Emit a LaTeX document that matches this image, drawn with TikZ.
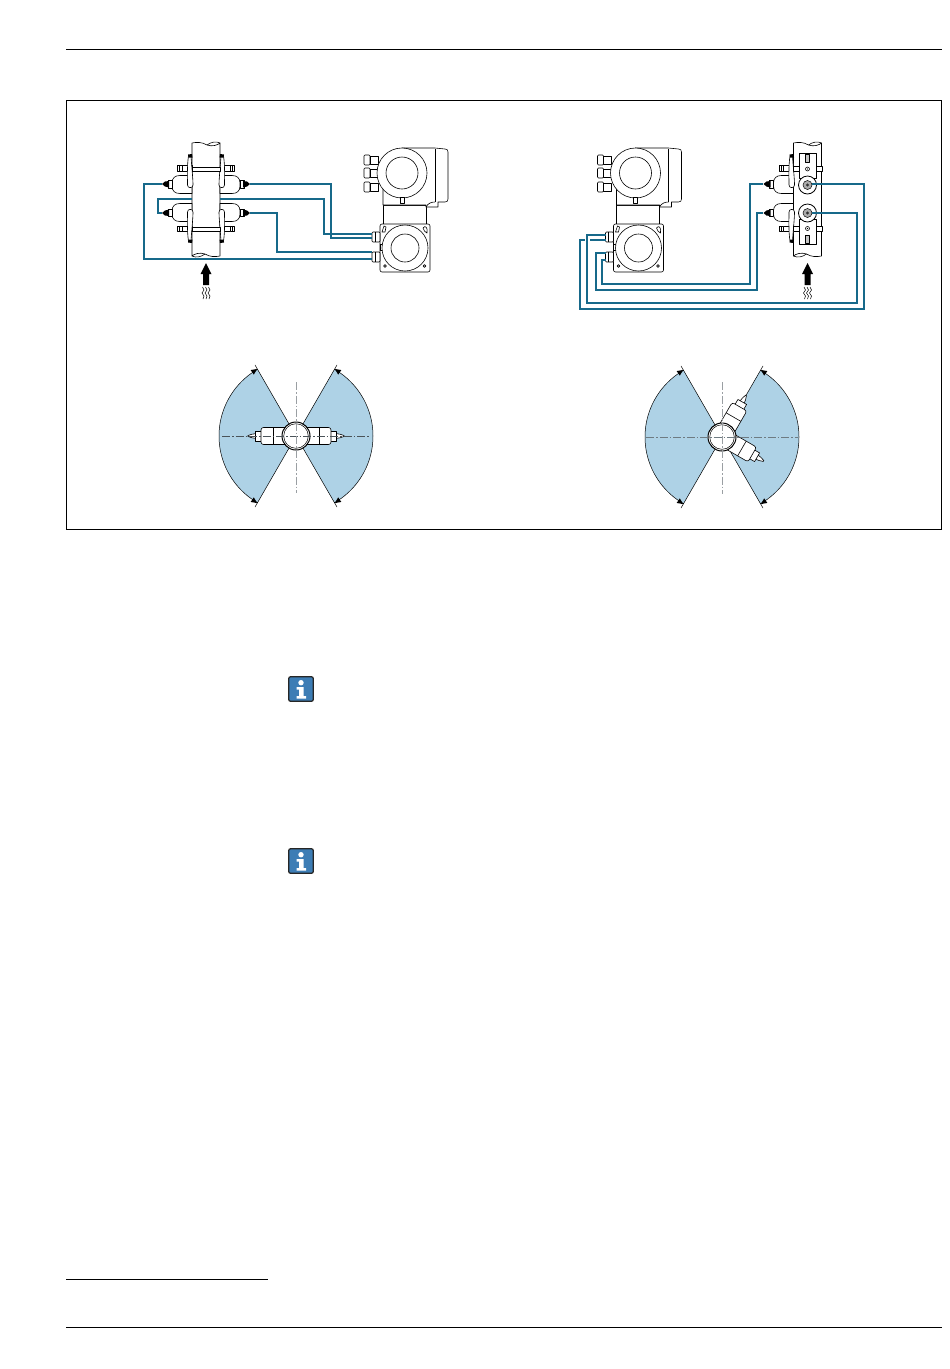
\documentclass[tikz,border=0pt]{standalone}
\definecolor{cable}{HTML}{17698A}
\definecolor{sectorblue}{HTML}{AED2E6}
\definecolor{icon}{HTML}{3D7DB5}
\definecolor{cl}{HTML}{4A5358}
\definecolor{clpale}{HTML}{9A9FA3}
\definecolor{clmid}{HTML}{6E7B82}
\tikzset{
  part/.style={draw=black,fill=white,line width=0.6pt,line join=round},
  thinline/.style={draw=black,line width=0.6pt,line join=round},
  cablerun/.style={draw=cable,line width=1.1pt,line join=miter},
  centreline/.style={line width=0.7pt,dash pattern=on 8pt off 2pt on 1.5pt off 2pt},
  rulerline/.style={draw=black,line width=0.6pt}
}
\newcommand\clampunit{%
  \path[part] (182,165.5) rectangle (192,171);
  \path[part] (177.5,165.5) rectangle (182,171);
  \draw[black,line width=0.9pt] (179.7,165.8) -- (179.7,170.7);
  \path[part] (172,184.5) -- (172,183) .. controls (172,178) and (175,175.5) .. (180,175.5) -- (192,175.5) -- (192,193.5) -- (180,193.5) .. controls (175,193.5) and (172,191) .. (172,186) -- cycle;
  \path[part] (168,180.5) rectangle (172,188);
  \fill[black] (162,184) -- (165,181.5) -- (169,181) -- (169,187.5) -- (165,186.5) -- cycle;
  \path[part] (188.5,156) .. controls (187,165) and (187.5,178) .. (187.5,185) .. controls (187.5,188.5) and (193,188.5) .. (193,185) .. controls (193,178) and (191.5,165) .. (191,156);
  \fill[black] (188,154.5) -- (192,154) -- (192.5,157.5) -- (188.5,157.5) -- cycle;
}
\newcommand\clampset{%
  \clampunit
  \begin{scope}[shift={(0,397)},yscale=-1]\clampunit\end{scope}
}
\newcommand\pipebody[1]{%
  \begin{scope}[shift={(#1,0)}]
  \path[part] (0,143) .. controls (5,142) and (10,142) .. (15,145) .. controls (20,147) and (26,145) .. (28,143) -- (28,256) .. controls (23,257) and (18,257) .. (13,254) .. controls (8,252) and (2,254) .. (0,256) -- cycle;
  \draw[thinline] (15,145) .. controls (19,142) and (24,141) .. (28,143);
  \draw[thinline] (13,254) .. controls (9,257) and (4,258) .. (0,256);
  \end{scope}
}
\newcommand\squiggle[1]{%
  \draw[black,line width=0.5pt] (#1,287) -- (#1+1.5,290) -- (#1-0.5,293) -- (#1+1.5,296) -- (#1+0.5,299);
}
\newcommand\flowarrow[1]{%
  \fill[black] (#1,263) -- (#1+5.5,274) -- (#1+3,274) -- (#1+3,285) -- (#1-3,285) -- (#1-3,274) -- (#1-5.5,274) -- cycle;
  \squiggle{#1-3.5}\squiggle{#1-0.5}\squiggle{#1+2.5}
}
\newcommand\gland[2]{%
  \path[part,rounded corners=1pt] (#1,#2+0.5) rectangle (#1+6,#2+10.5);
  \path[part] (#1+6,#2+1.5) rectangle (#1+14,#2+9.5);
}
\newcommand\transmitter{%
  \path[part] (383,205) rectangle (426,224);
  \path[part] (402,148) -- (435,148) -- (445,149) .. controls (447,149) and (448,150) .. (448,152) -- (448,199) .. controls (448,201) and (447,202) .. (445,202) -- (438,202) -- (438,207) -- (426,207) -- (426,205) -- (383,205) -- (383,188) -- cycle;
  \draw[thinline] (435,149) -- (435,202);
  \draw[thinline] (426,207) .. controls (428,203) and (432,202) .. (435,202);
  \gland{364}{154.5}\gland{364}{167.5}\gland{364}{181.5}
  \path[part] (402,173) circle[radius=25];
  \path[part] (402,173) circle[radius=16];
  \path[part] (400,197.5) rectangle (404,203);
  \path[part,rounded corners=2pt] (380,224) rectangle (430,272);
  \path[part] (380,244) rectangle (383,250);
  \path[part] (405,248) circle[radius=23];
  \path[part] (405,248) circle[radius=14];
  \draw[thinline] (385,266) circle[radius=1.4];
  \draw[thinline] (424.5,266) circle[radius=1.4];
  \draw[thinline] (382,232) -- (384,226) -- (386,227) -- (385,232) -- cycle;
  \draw[thinline] (423,228) .. controls (425,225) and (428,227) .. (427,233) .. controls (425,232) and (424,231) .. (423,228);
  \path[part,rounded corners=1pt] (372,232) rectangle (380,242);
  \path[part,rounded corners=1pt] (372,252) rectangle (380,262);
  \draw[thinline] (375,232) -- (375,242) (375,252) -- (375,262);
}
\newcommand\sectorfig[2]{%
  \begin{scope}[shift={(#1,#2)}]
  \foreach \a in {0,180}{
    \begin{scope}[rotate=\a]
    \path[fill=sectorblue,draw=black,line width=0.5pt] (0,0) -- plot[domain=-60:60,samples=61] ({77*cos(\x)},{77*sin(\x)}) -- cycle;
    \draw[black,line width=0.5pt] (60:77) -- (60:82) (-60:77) -- (-60:82);
    \fill[black] (60:77.5) -- (55.5:80) -- (55.5:74.5) -- cycle;
    \fill[black] (-60:77.5) -- (-55.5:80) -- (-55.5:74.5) -- cycle;
    \end{scope}
  }
  \end{scope}
}
\newcommand\probe{%
  \path[part] (40,-2.4) -- (44,-1.8) -- (48,-0.5) -- (48,0.5) -- (44,1.8) -- (40,2.4) -- cycle;
  \path[part] (34,-5) rectangle (40.5,5);
  \path[part,rounded corners=2.5pt] (8,-8.5) rectangle (35,8.5);
  \draw[thinline] (23,-8.5) -- (23,8.5);
}
\newcommand\ringcircle[2]{%
  \path[draw=black,fill=white,line width=1pt] (#1,#2) circle[radius=14];
  \draw[black,line width=0.5pt] (#1,#2) circle[radius=12.3];
}
\newcommand\infoicon[2]{%
  \begin{scope}[shift={(#1,#2)}]
  \path[draw=black!85,fill=icon,line width=1.3pt,rounded corners=2pt] (0.7,0.7) rectangle (25.3,25.3);
  \fill[white] (13,6.7) circle[radius=2.7];
  \fill[white] (8.5,11) -- (15.7,11) -- (15.7,20) -- (18,20) -- (18,22.5) -- (8.5,22.5) -- (8.5,20) -- (11,20) -- (11,13.5) -- (8.5,13.5) -- cycle;
  \end{scope}
}
\begin{document}
\begin{tikzpicture}[x=1pt,y=-1pt]
\useasboundingbox (0,0) rectangle (950,1369);
\fill[white] (0,0) rectangle (950,1369);
\coordinate (rt1) at (66,49);\coordinate (rt2) at (942,49);
\draw[rulerline] (rt1) -- (rt2);
\coordinate (rb1) at (66,1327);\coordinate (rb2) at (942,1327);
\draw[rulerline] (rb1) -- (rb2);
\coordinate (fn1) at (66,1279);\coordinate (fn2) at (268,1279);
\draw[rulerline] (fn1) -- (fn2);
\draw[rulerline] (66.5,100.5) rectangle (941.5,529.5);
\infoicon{288}{676}
\infoicon{288}{848}

% upper left
\transmitter
\pipebody{192}
\clampset
\begin{scope}[shift={(412,0)},xscale=-1]\clampset\end{scope}
\path[part] (192,167) rectangle (220,171);
\path[part] (192,227) rectangle (220,231);
\flowarrow{206}
\coordinate (a1) at (250,184);\coordinate (b1) at (372,238);
\draw[cablerun] (a1) -- (331,184) -- (331,238) -- (b1);
\coordinate (a2) at (220,199);\coordinate (b2) at (372,234);
\draw[cablerun] (a2) -- (324,199) -- (324,234) -- (b2);
\coordinate (a3) at (192,199);\coordinate (b3) at (162,213);
\draw[cablerun] (a3) -- (158,199) -- (158,213) -- (b3);
\coordinate (a4) at (250,213);\coordinate (b4) at (372,252);
\draw[cablerun] (a4) -- (277,213) -- (277,252) -- (b4);
\coordinate (a5) at (162,184);\coordinate (b5) at (372,259);
\draw[cablerun] (a5) -- (144,184) -- (144,259) -- (b5);

% upper right
\begin{scope}[shift={(233.5,0)}]\transmitter\end{scope}
\pipebody{793.5}
\begin{scope}[shift={(601.5,0)}]\clampset\end{scope}
\path[part] (793,166.5) rectangle (822,171.5);
\path[part] (793,226.5) rectangle (822,231.5);
\foreach \y in {153,219}{
  \path[part] (799,\y) rectangle (816.5,\y+25);
}
\foreach \y in {169,228.5}{\path[part] (807.5,\y) circle[radius=2];\fill[black] (807.5,\y) circle[radius=0.7];}
\foreach \y in {158,239.5}{\path[part,fill=gray!45] (805.5,\y-4) rectangle (809.5,\y+4);}
\foreach \y in {185,213}{
  \path[part,line width=0.8pt] (807.5,\y) circle[radius=9];
  \path[draw=black,fill=gray!65,line width=0.5pt] (807.5,\y) circle[radius=4.5];
  \fill[black!80] (807.5,\y) circle[radius=1.6];
}
\flowarrow{807.5}
\coordinate (c1) at (763,184);\coordinate (d1) at (606,260);
\draw[cablerun] (c1) -- (750,184) -- (750,284) -- (602,284) -- (602,260) -- (d1);
\coordinate (c2) at (763,213);\coordinate (d2) at (606,253);
\draw[cablerun] (c2) -- (757,213) -- (757,290) -- (596,290) -- (596,253) -- (d2);
\coordinate (c3) at (812,213);\coordinate (d3) at (606,235);
\draw[cablerun] (c3) -- (857,213) -- (857,303) -- (587,303) -- (587,235) -- (d3);
\coordinate (c4) at (812,184);\coordinate (d4) at (606,240);
\draw[cablerun] (c4) -- (864,184) -- (864,309) -- (580,309) -- (580,240) -- (585,240);
\draw[cablerun] (590,240) -- (d4);

% lower left
\sectorfig{296}{436}
\foreach \a in {0,180}{
  \begin{scope}[shift={(296,436)},rotate=\a]\probe\end{scope}
}
\ringcircle{296}{436}
\draw[centreline,draw=cl] (222,436) -- (370,436);
\draw[centreline,draw=clpale] (296,382) -- (296,493);

% lower right
\sectorfig{722}{437}
\begin{scope}[shift={(722,437)},rotate=60]\probe\end{scope}
\begin{scope}[shift={(722,437)},rotate=-30]\probe\end{scope}
\ringcircle{722}{437}
\draw[centreline,draw=clmid] (646,437) -- (798,437);
\draw[centreline,draw=clpale] (722,382) -- (722,494);
\end{tikzpicture}
\end{document}
